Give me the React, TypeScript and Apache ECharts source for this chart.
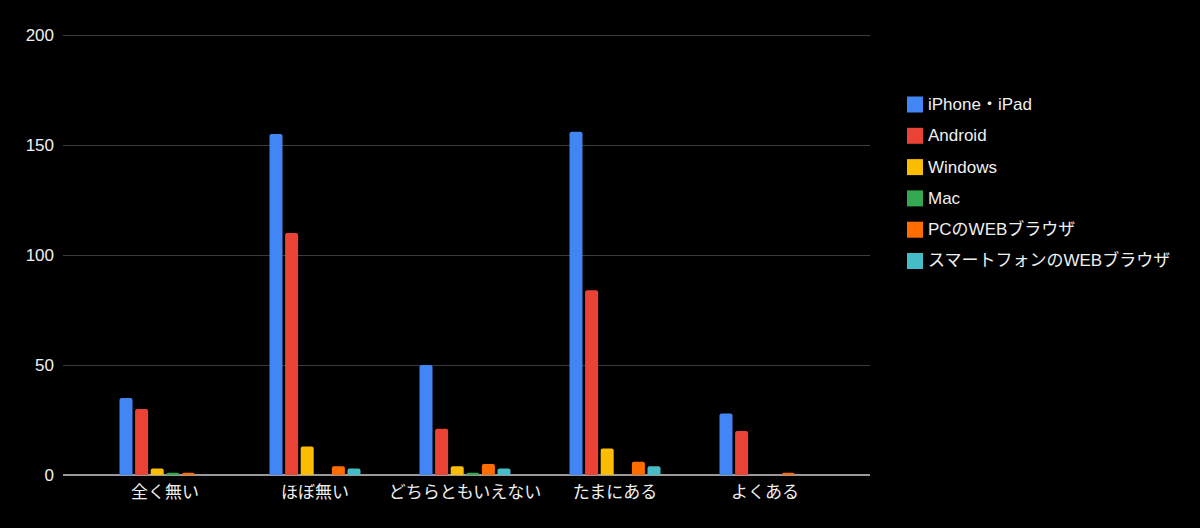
import React, { useEffect, useRef } from "react";
import * as echarts from "echarts";

const categories = ["全く無い", "ほぼ無い", "どちらともいえない", "たまにある", "よくある"];
const seriesNames = ["iPhone・iPad", "Android", "Windows", "Mac", "PCのWEBブラウザ", "スマートフォンのWEBブラウザ"];
const iphone = [35, 155, 50, 156, 28];
const android = [30, 110, 21, 84, 20];
const windows = [3, 13, 4, 12, 0];
const mac = [1, 0, 1, 0, 0];
const pcWeb = [1, 4, 5, 6, 1];
const spWeb = [0, 3, 3, 4, 0];
const colors = ["#4285F4", "#EA4335", "#FBBC04", "#34A853", "#FF6D01", "#46BDC6"];
const yTicks = { min: 0, max: 200, interval: 50 };

const FONT = '"Liberation Sans", "Noto Sans CJK JP", sans-serif';

export default function App() {
  const ref = useRef<HTMLDivElement>(null);
  useEffect(() => {
    document.body.style.margin = "0";
    document.body.style.background = "#000";
    const chart = echarts.init(ref.current!, null, { renderer: "svg" });
    const values = [iphone, android, windows, mac, pcWeb, spWeb];
    chart.setOption({
      animation: false,
      backgroundColor: "#000",
      textStyle: { fontFamily: FONT },
      legend: {
        orient: "vertical",
        left: 902,
        top: 91,
        itemWidth: 16,
        itemHeight: 16,
        itemGap: 14.3,
        itemStyle: { borderRadius: 2 },
        textStyle: { color: "#f0f0f0", fontSize: 17, fontFamily: FONT, lineHeight: 16 },
        icon: "rect",
        data: seriesNames,
      },
      grid: [
        { left: 63, right: 330, top: 35, bottom: 53 },
        { left: 90, right: 360, top: 35, bottom: 53 },
      ],
      xAxis: [
        {
          gridIndex: 0,
          type: "value",
          min: 0,
          max: 1,
          axisLine: { show: false },
          axisTick: { show: false },
          axisLabel: { show: false },
          splitLine: { show: false },
        },
        {
          gridIndex: 1,
          type: "category",
          data: categories,
          axisLine: { show: false },
          axisTick: { show: false },
          axisLabel: { color: "#f0f0f0", fontSize: 17, margin: 9, fontFamily: FONT, interval: 0 },
        },
      ],
      yAxis: [
        {
          gridIndex: 0,
          type: "value",
          ...yTicks,
          axisLine: { show: false },
          axisTick: { show: false },
          axisLabel: { color: "#f0f0f0", fontSize: 17, margin: 9, fontFamily: FONT },
          splitLine: { lineStyle: { color: "#3c3c3c", width: 1 } },
        },
        {
          gridIndex: 1,
          type: "value",
          ...yTicks,
          show: false,
          splitLine: { show: false },
        },
      ],
      series: [
        ...seriesNames.map((name, i) => ({
          name,
          type: "bar",
          xAxisIndex: 1,
          yAxisIndex: 1,
          data: values[i],
          barWidth: 13,
          barGap: "20%",
          itemStyle: { color: colors[i], borderRadius: [2, 2, 0, 0] },
        })),
        {
          type: "line",
          xAxisIndex: 0,
          yAxisIndex: 0,
          data: [[0, 0], [1, 0]],
          symbol: "none",
          silent: true,
          lineStyle: { color: "#9a9a9a", width: 2 },
          z: 1,
        },
      ],
    });
    return () => chart.dispose();
  }, []);
  return <div ref={ref} style={{ width: 1200, height: 528 }} />;
}
